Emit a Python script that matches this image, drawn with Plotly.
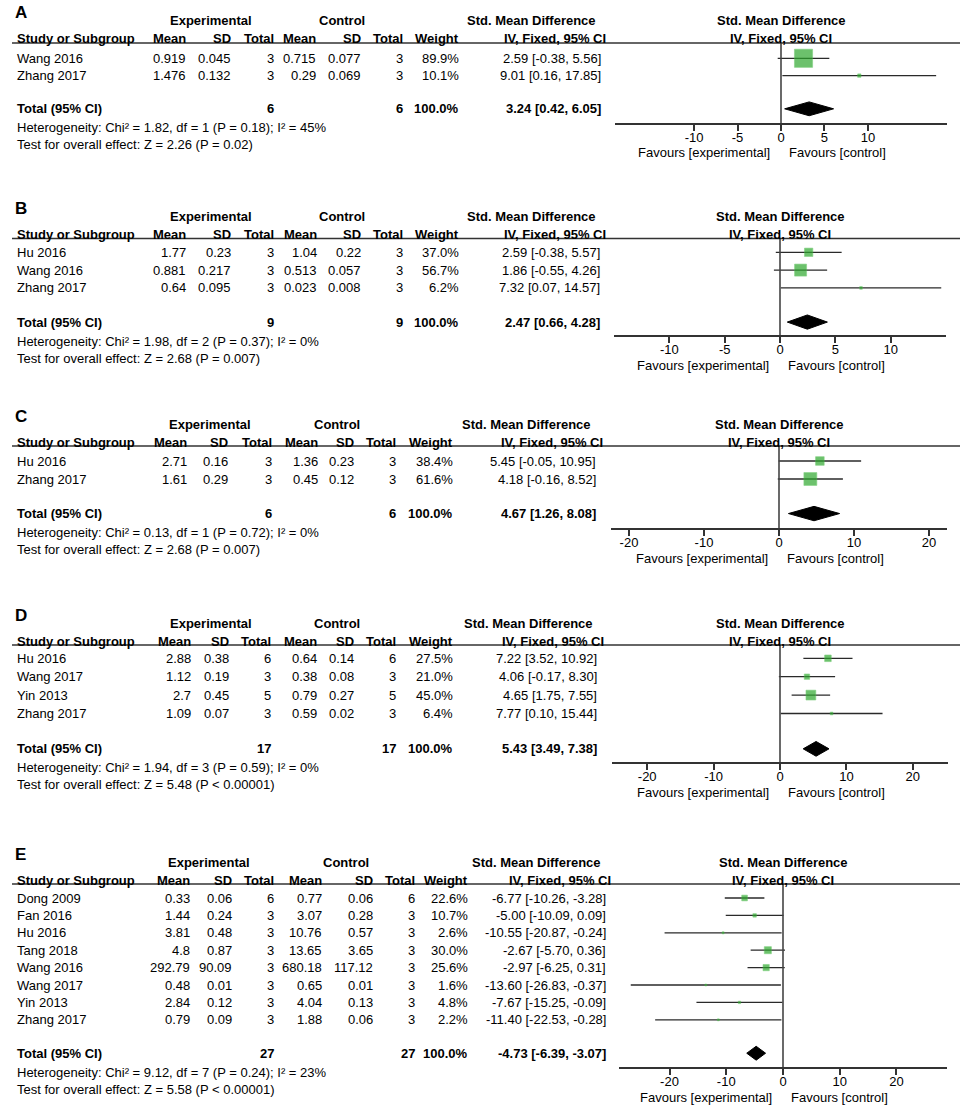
import plotly.graph_objects as go

W, H = 963, 1107
FONT = "Liberation Sans, Arial, Helvetica, sans-serif"
GREEN = "#2ea82e"
GREEN_EDGE = "#4dbd4d"

# ---------------- data: panel A ----------------
A_study = ["Wang 2016", "Zhang 2017"]
A_exp_mean = [0.919, 1.476]
A_exp_sd = [0.045, 0.132]
A_exp_n = [3, 3]
A_ctl_mean = [0.715, 0.29]
A_ctl_sd = [0.077, 0.069]
A_ctl_n = [3, 3]
A_weight = [89.9, 10.1]
A_smd = [2.59, 9.01]
A_lo = [-0.38, 0.16]
A_hi = [5.56, 17.85]
A_total = [6, 6, 3.24, 0.42, 6.05]
A_het = ["1.82", "1", "0.18", "45"]
A_z = ["2.26", "= 0.02"]

# ---------------- data: panel B ----------------
B_study = ["Hu 2016", "Wang 2016", "Zhang 2017"]
B_exp_mean = [1.77, 0.881, 0.64]
B_exp_sd = [0.23, 0.217, 0.095]
B_exp_n = [3, 3, 3]
B_ctl_mean = [1.04, 0.513, 0.023]
B_ctl_sd = [0.22, 0.057, 0.008]
B_ctl_n = [3, 3, 3]
B_weight = [37.0, 56.7, 6.2]
B_smd = [2.59, 1.86, 7.32]
B_lo = [-0.38, -0.55, 0.07]
B_hi = [5.57, 4.26, 14.57]
B_total = [9, 9, 2.47, 0.66, 4.28]
B_het = ["1.98", "2", "0.37", "0"]
B_z = ["2.68", "= 0.007"]

# ---------------- data: panel C ----------------
C_study = ["Hu 2016", "Zhang 2017"]
C_exp_mean = [2.71, 1.61]
C_exp_sd = [0.16, 0.29]
C_exp_n = [3, 3]
C_ctl_mean = [1.36, 0.45]
C_ctl_sd = [0.23, 0.12]
C_ctl_n = [3, 3]
C_weight = [38.4, 61.6]
C_smd = [5.45, 4.18]
C_lo = [-0.05, -0.16]
C_hi = [10.95, 8.52]
C_total = [6, 6, 4.67, 1.26, 8.08]
C_het = ["0.13", "1", "0.72", "0"]
C_z = ["2.68", "= 0.007"]

# ---------------- data: panel D ----------------
D_study = ["Hu 2016", "Wang 2017", "Yin 2013", "Zhang 2017"]
D_exp_mean = [2.88, 1.12, 2.7, 1.09]
D_exp_sd = [0.38, 0.19, 0.45, 0.07]
D_exp_n = [6, 3, 5, 3]
D_ctl_mean = [0.64, 0.38, 0.79, 0.59]
D_ctl_sd = [0.14, 0.08, 0.27, 0.02]
D_ctl_n = [6, 3, 5, 3]
D_weight = [27.5, 21.0, 45.0, 6.4]
D_smd = [7.22, 4.06, 4.65, 7.77]
D_lo = [3.52, -0.17, 1.75, 0.10]
D_hi = [10.92, 8.30, 7.55, 15.44]
D_total = [17, 17, 5.43, 3.49, 7.38]
D_het = ["1.94", "3", "0.59", "0"]
D_z = ["5.48", "< 0.00001"]

# ---------------- data: panel E ----------------
E_study = ["Dong 2009", "Fan 2016", "Hu 2016", "Tang 2018", "Wang 2016",
           "Wang 2017", "Yin 2013", "Zhang 2017"]
E_exp_mean = [0.33, 1.44, 3.81, 4.8, 292.79, 0.48, 2.84, 0.79]
E_exp_sd = [0.06, 0.24, 0.48, 0.87, 90.09, 0.01, 0.12, 0.09]
E_exp_n = [6, 3, 3, 3, 3, 3, 3, 3]
E_ctl_mean = [0.77, 3.07, 10.76, 13.65, 680.18, 0.65, 4.04, 1.88]
E_ctl_sd = [0.06, 0.28, 0.57, 3.65, 117.12, 0.01, 0.13, 0.06]
E_ctl_n = [6, 3, 3, 3, 3, 3, 3, 3]
E_weight = [22.6, 10.7, 2.6, 30.0, 25.6, 1.6, 4.8, 2.2]
E_smd = [-6.77, -5.00, -10.55, -2.67, -2.97, -13.60, -7.67, -11.40]
E_lo = [-10.26, -10.09, -20.87, -5.70, -6.25, -26.83, -15.25, -22.53]
E_hi = [-3.28, 0.09, -0.24, 0.36, 0.31, -0.37, -0.09, -0.28]
E_total = [27, 27, -4.73, -6.39, -3.07]
E_het = ["9.12", "7", "0.24", "23"]
E_z = ["5.58", "< 0.00001"]

ticks_small = [-10, -5, 0, 5, 10]
ticks_big = [-20, -10, 0, 10, 20]

# ---------------- layout geometry (pixels) ----------------
geoA = dict(line=43, row0=58.3, sp=17.3, axis=123, x0=615, x1=947, xr=19.1, ticks=ticks_small,
            cols=[188, 233, 276, 318, 363, 405, 461, 603], exp_c=211, ctl_c=342, smd_r=598, iv_r=608)
geoB = dict(line=238.5, row0=252.3, sp=17.8, axis=335, x0=614, x1=946, xr=15.0, ticks=ticks_small,
            cols=[188, 233, 276, 319, 363, 405, 461, 602], exp_c=211, ctl_c=342, smd_r=598, iv_r=608)
geoC = dict(line=446, row0=461, sp=18.0, axis=528, x0=611, x1=947, xr=22.4, ticks=ticks_big,
            cols=[189, 230, 274, 320, 356, 398, 455, 598], exp_c=210, ctl_c=337, smd_r=593, iv_r=605)
geoD = dict(line=645, row0=658.3, sp=18.4, axis=762, x0=612, x1=948, xr=25.3, ticks=ticks_big,
            cols=[193, 231, 273, 319, 356, 398, 455, 599], exp_c=211, ctl_c=337, smd_r=595, iv_r=606)
geoE = dict(line=884, row0=898, sp=17.4, axis=1067, x0=619, x1=947, xr=28.9, ticks=ticks_big,
            cols=[192, 234, 276, 324, 375, 417, 470, 608], exp_c=209, ctl_c=346, smd_r=603, iv_r=613)

panels = [
    dict(letter="A", study=A_study, em=A_exp_mean, esd=A_exp_sd, en=A_exp_n, cm=A_ctl_mean, csd=A_ctl_sd,
         cn=A_ctl_n, w=A_weight, smd=A_smd, lo=A_lo, hi=A_hi, tot=A_total, het=A_het, z=A_z, g=geoA),
    dict(letter="B", study=B_study, em=B_exp_mean, esd=B_exp_sd, en=B_exp_n, cm=B_ctl_mean, csd=B_ctl_sd,
         cn=B_ctl_n, w=B_weight, smd=B_smd, lo=B_lo, hi=B_hi, tot=B_total, het=B_het, z=B_z, g=geoB),
    dict(letter="C", study=C_study, em=C_exp_mean, esd=C_exp_sd, en=C_exp_n, cm=C_ctl_mean, csd=C_ctl_sd,
         cn=C_ctl_n, w=C_weight, smd=C_smd, lo=C_lo, hi=C_hi, tot=C_total, het=C_het, z=C_z, g=geoC),
    dict(letter="D", study=D_study, em=D_exp_mean, esd=D_exp_sd, en=D_exp_n, cm=D_ctl_mean, csd=D_ctl_sd,
         cn=D_ctl_n, w=D_weight, smd=D_smd, lo=D_lo, hi=D_hi, tot=D_total, het=D_het, z=D_z, g=geoD),
    dict(letter="E", study=E_study, em=E_exp_mean, esd=E_exp_sd, en=E_exp_n, cm=E_ctl_mean, csd=E_ctl_sd,
         cn=E_ctl_n, w=E_weight, smd=E_smd, lo=E_lo, hi=E_hi, tot=E_total, het=E_het, z=E_z, g=geoE),
]

fig = go.Figure()
ann = []
shapes = []


def txt(text, x_px, y, anchor="right", yref="paper", size=13, bold=False):
    if bold:
        text = "<b>" + text + "</b>"
    yy = (1 - y / H) if yref == "paper" else y
    ann.append(dict(text=text, x=x_px / W, y=yy, xref="paper", yref=yref, xanchor=anchor,
                    yanchor="middle", showarrow=False,
                    font=dict(family=FONT, size=size, color="black")))


for k, P in enumerate(panels, start=1):
    g = P["g"]
    n = len(P["study"])
    sfx = "" if k == 1 else str(k)
    xa, ya = "x" + sfx, "y" + sfx
    rows = list(range(n))
    t_idx = n - 1 + 1.92
    r_top = (g["line"] - g["row0"]) / g["sp"]
    r_bot = (g["axis"] - g["row0"]) / g["sp"]
    total_px = g["row0"] + t_idx * g["sp"]

    fig.layout["xaxis" + sfx] = dict(
        domain=[g["x0"] / W, g["x1"] / W], range=[-g["xr"], g["xr"]], anchor=ya,
        tickmode="array", tickvals=g["ticks"], ticktext=[str(t) for t in g["ticks"]],
        showline=True, linecolor="#333333", linewidth=2, ticks="outside", ticklen=6,
        tickwidth=2, tickcolor="#333333", showgrid=False, zeroline=False,
        ticklabelstandoff=-5,
        tickfont=dict(family=FONT, size=13, color="black"), fixedrange=True)
    fig.layout["yaxis" + sfx] = dict(
        domain=[1 - g["axis"] / H, 1 - g["line"] / H], range=[r_bot, r_top], anchor=xa,
        visible=False, showgrid=False, zeroline=False, fixedrange=True)

    # CI lines
    xs, ys = [], []
    for i in rows:
        xs += [P["lo"][i], P["hi"][i], None]
        ys += [i, i, None]
    fig.add_trace(go.Scatter(x=xs, y=ys, mode="lines", line=dict(color="#2a2a2a", width=1.3),
                             xaxis=xa, yaxis=ya, hoverinfo="skip", showlegend=False))
    # squares
    fig.add_trace(go.Scatter(x=P["smd"], y=rows, mode="markers",
                             marker=dict(symbol="square", size=[1.5 + 0.185 * w for w in P["w"]],
                                         color=GREEN, line=dict(color=GREEN_EDGE, width=0.6)),
                             xaxis=xa, yaxis=ya, hoverinfo="skip", showlegend=False))
    # diamond
    tn_e, tn_c, ts, tl, th = P["tot"]
    hh = 0.4
    fig.add_trace(go.Scatter(x=[tl, ts, th, ts, tl], y=[t_idx, t_idx - hh, t_idx, t_idx + hh, t_idx],
                             mode="lines", fill="toself", fillcolor="black",
                             line=dict(color="black", width=1), xaxis=xa, yaxis=ya,
                             hoverinfo="skip", showlegend=False))

    # zero line and header rule
    shapes.append(dict(type="line", xref=xa, x0=0, x1=0, yref=ya + " domain", y0=0, y1=1,
                       line=dict(color="#444444", width=1.6)))
    shapes.append(dict(type="line", xref="paper", x0=12 / W, x1=960 / W, yref="paper",
                       y0=1 - g["line"] / H, y1=1 - g["line"] / H, line=dict(color="#333333", width=1.6)))

    # headers
    hdr1 = g["line"] - 22
    hdr2 = g["line"] - 4
    txt(P["letter"], 13, g["line"] - 30, anchor="left", size=17, bold=True)
    txt("Experimental", g["exp_c"], hdr1, anchor="center", bold=True)
    txt("Control", g["ctl_c"], hdr1, anchor="center", bold=True)
    txt("Std. Mean Difference", g["smd_r"], hdr1, anchor="right", bold=True)
    txt("Study or Subgroup", 15, hdr2, anchor="left", bold=True)
    c = g["cols"]
    for lab, xp in zip(["Mean", "SD", "Total", "Mean", "SD", "Total", "Weight"], c[:7]):
        txt(lab, xp, hdr2, bold=True)
    txt("IV, Fixed, 95% CI", g["iv_r"], hdr2, bold=True)
    for lab, yp in [("Std. Mean Difference", hdr1), ("IV, Fixed, 95% CI", hdr2)]:
        ann.append(dict(text="<b>" + lab + "</b>", x=0, xref=xa, y=1 - yp / H, yref="paper",
                        xanchor="center", yanchor="middle", showarrow=False,
                        font=dict(family=FONT, size=13, color="black")))

    # study rows
    for i in rows:
        txt(P["study"][i], 15, i, anchor="left", yref=ya)
        vals = [str(P["em"][i]), str(P["esd"][i]), str(P["en"][i]), str(P["cm"][i]),
                str(P["csd"][i]), str(P["cn"][i]), f"{P['w'][i]:.1f}%",
                f"{P['smd'][i]:.2f} [{P['lo'][i]:.2f}, {P['hi'][i]:.2f}]"]
        for v, xp in zip(vals, c):
            txt(v, xp, i, yref=ya)

    # total row
    txt("Total (95% CI)", 15, t_idx, anchor="left", yref=ya, bold=True)
    txt(str(tn_e), c[2], t_idx, yref=ya, bold=True)
    txt(str(tn_c), c[5], t_idx, yref=ya, bold=True)
    txt("100.0%", c[6], t_idx, yref=ya, bold=True)
    txt(f"{ts:.2f} [{tl:.2f}, {th:.2f}]", c[7], t_idx, yref=ya, bold=True)

    chi, df, p, i2 = P["het"]
    txt(f"Heterogeneity: Chi² = {chi}, df = {df} (P = {p}); I² = {i2}%", 15, total_px + 19, anchor="left")
    zz, pz = P["z"]
    txt(f"Test for overall effect: Z = {zz} (P {pz})", 15, total_px + 36, anchor="left")

    # favours labels
    fav_y = 1 - (g["axis"] + 30) / H
    ann.append(dict(text="Favours [experimental]", x=0, xref=xa, xshift=-9, y=fav_y, yref="paper",
                    xanchor="right", yanchor="middle", showarrow=False,
                    font=dict(family=FONT, size=13, color="black")))
    ann.append(dict(text="Favours [control]", x=0, xref=xa, xshift=6, y=fav_y, yref="paper",
                    xanchor="left", yanchor="middle", showarrow=False,
                    font=dict(family=FONT, size=13, color="black")))

fig.update_layout(width=W, height=H, margin=dict(l=0, r=0, t=0, b=0),
                  paper_bgcolor="white", plot_bgcolor="white",
                  annotations=ann, shapes=shapes, showlegend=False,
                  font=dict(family=FONT, size=13, color="black"))

fig.write_html("out.html", config={"displayModeBar": False},
               post_script="document.body.style.margin='0';document.body.style.overflow='hidden';")
